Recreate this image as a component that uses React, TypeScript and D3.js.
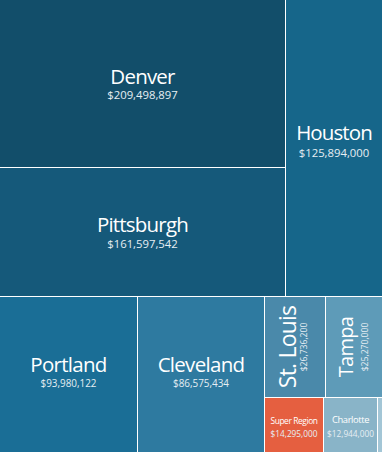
import React from "react";
import * as d3 from "d3";

const W = 382;
const H = 452;

// Data
const cities = ["Denver", "Pittsburgh", "Houston", "Portland", "Cleveland", "St. Louis", "Tampa", "Super Region", "Charlotte", "Other"];
const sales = [209498897, 161597542, 125894000, 93980122, 86575434, 26736200, 25270000, 14295000, 12944000, 1195000];
const colors = ["#124e6a", "#15597a", "#16668a", "#1a6e96", "#2e7aa0", "#4a89aa", "#5e9bb8", "#e55f40", "#89b4c8", "#a3c6d6"];

// Tableau-like nested layout: [tile, children]
const layoutSpec: any = ["slice", [
  ["dice", [["slice", ["Denver", "Pittsburgh"]], "Houston"]],
  ["dice", ["Portland", "Cleveland", ["slice", [
    ["dice", ["St. Louis", "Tampa"]],
    ["dice", ["Super Region", "Charlotte", "Other"]],
  ]]]],
]];

// label styling (not data)
const labelStyle: Record<string, any> = {
  "Denver": { size: 20.5, ls: -0.8, vsize: 11.3, dy: 0.5, gap: 15 },
  "Pittsburgh": { size: 20.5, ls: -0.8, vsize: 11.3, dy: 0, gap: 16 },
  "Houston": { size: 20.5, ls: -0.9, vsize: 11.3, dy: -8, gap: 17 },
  "Portland": { size: 20.5, ls: -0.7, vsize: 9.9, dy: -2.5, gap: 14.5 },
  "Cleveland": { size: 20.5, ls: -0.7, vsize: 9.9, dy: -2.5, gap: 14.5 },
  "St. Louis": { size: 23, ls: -0.8, vsize: 8.6, dy: 0.5, gap: 11, rotate: true },
  "Tampa": { size: 20, ls: -0.7, vsize: 8.6, dy: -1.5, gap: 15, rotate: true },
  "Super Region": { size: 8.4, ls: -0.4, vsize: 8.3, dy: -1.5, gap: 13 },
  "Charlotte": { size: 9.4, ls: -0.4, vsize: 8.3, dy: -2.5, gap: 14 },
};

function build(spec: any): any {
  if (typeof spec === "string") {
    const i = cities.indexOf(spec);
    return { name: spec, value: sales[i], color: colors[i] };
  }
  return { tile: spec[0], children: spec[1].map(build) };
}

const tile = (node: any, x0: number, y0: number, x1: number, y1: number) => {
  const t = node.data.tile === "dice" ? d3.treemapDice : d3.treemapSlice;
  t(node, x0, y0, x1, y1);
};

const fmt = d3.format("$,");

export default function App() {
  const root = d3.hierarchy(build(layoutSpec)).sum((d: any) => d.value || 0);
  d3.treemap<any>().size([W, H]).paddingInner(1).round(true).tile(tile as any)(root as any);
  const leaves = root.leaves() as any[];

  return (
    <svg width={W} height={H} style={{ position: "absolute", left: 0, top: 0, display: "block" }} fontFamily="'Open Sans', 'Noto Sans', sans-serif">
      {leaves.map((l) => {
        const x0 = l.x0, y0 = l.y0, x1 = l.x1, y1 = l.y1;
        const cx = (x0 + x1) / 2;
        const cy = (y0 + y1) / 2;
        const s = labelStyle[l.data.name];
        return (
          <g key={l.data.name}>
            <rect x={x0} y={y0} width={x1 - x0} height={y1 - y0} fill={l.data.color} />
            {s && !s.rotate && (
              <g>
                <text x={cx} y={cy + s.dy} textAnchor="middle" fill="#ffffff" fontSize={s.size} letterSpacing={s.ls}>{l.data.name}</text>
                <text x={cx} y={cy + s.dy + s.gap} textAnchor="middle" fill="#e6eef3" fontSize={s.vsize}>{fmt(l.data.value)}</text>
              </g>
            )}
            {s && s.rotate && (
              <g transform={`translate(${cx},${cy}) rotate(-90)`}>
                <text x={0} y={s.dy} textAnchor="middle" fill="#ffffff" fontSize={s.size} letterSpacing={s.ls}>{l.data.name}</text>
                <text x={0} y={s.dy + s.gap} textAnchor="middle" fill="#e6eef3" fontSize={s.vsize}>{fmt(l.data.value)}</text>
              </g>
            )}
          </g>
        );
      })}
    </svg>
  );
}
